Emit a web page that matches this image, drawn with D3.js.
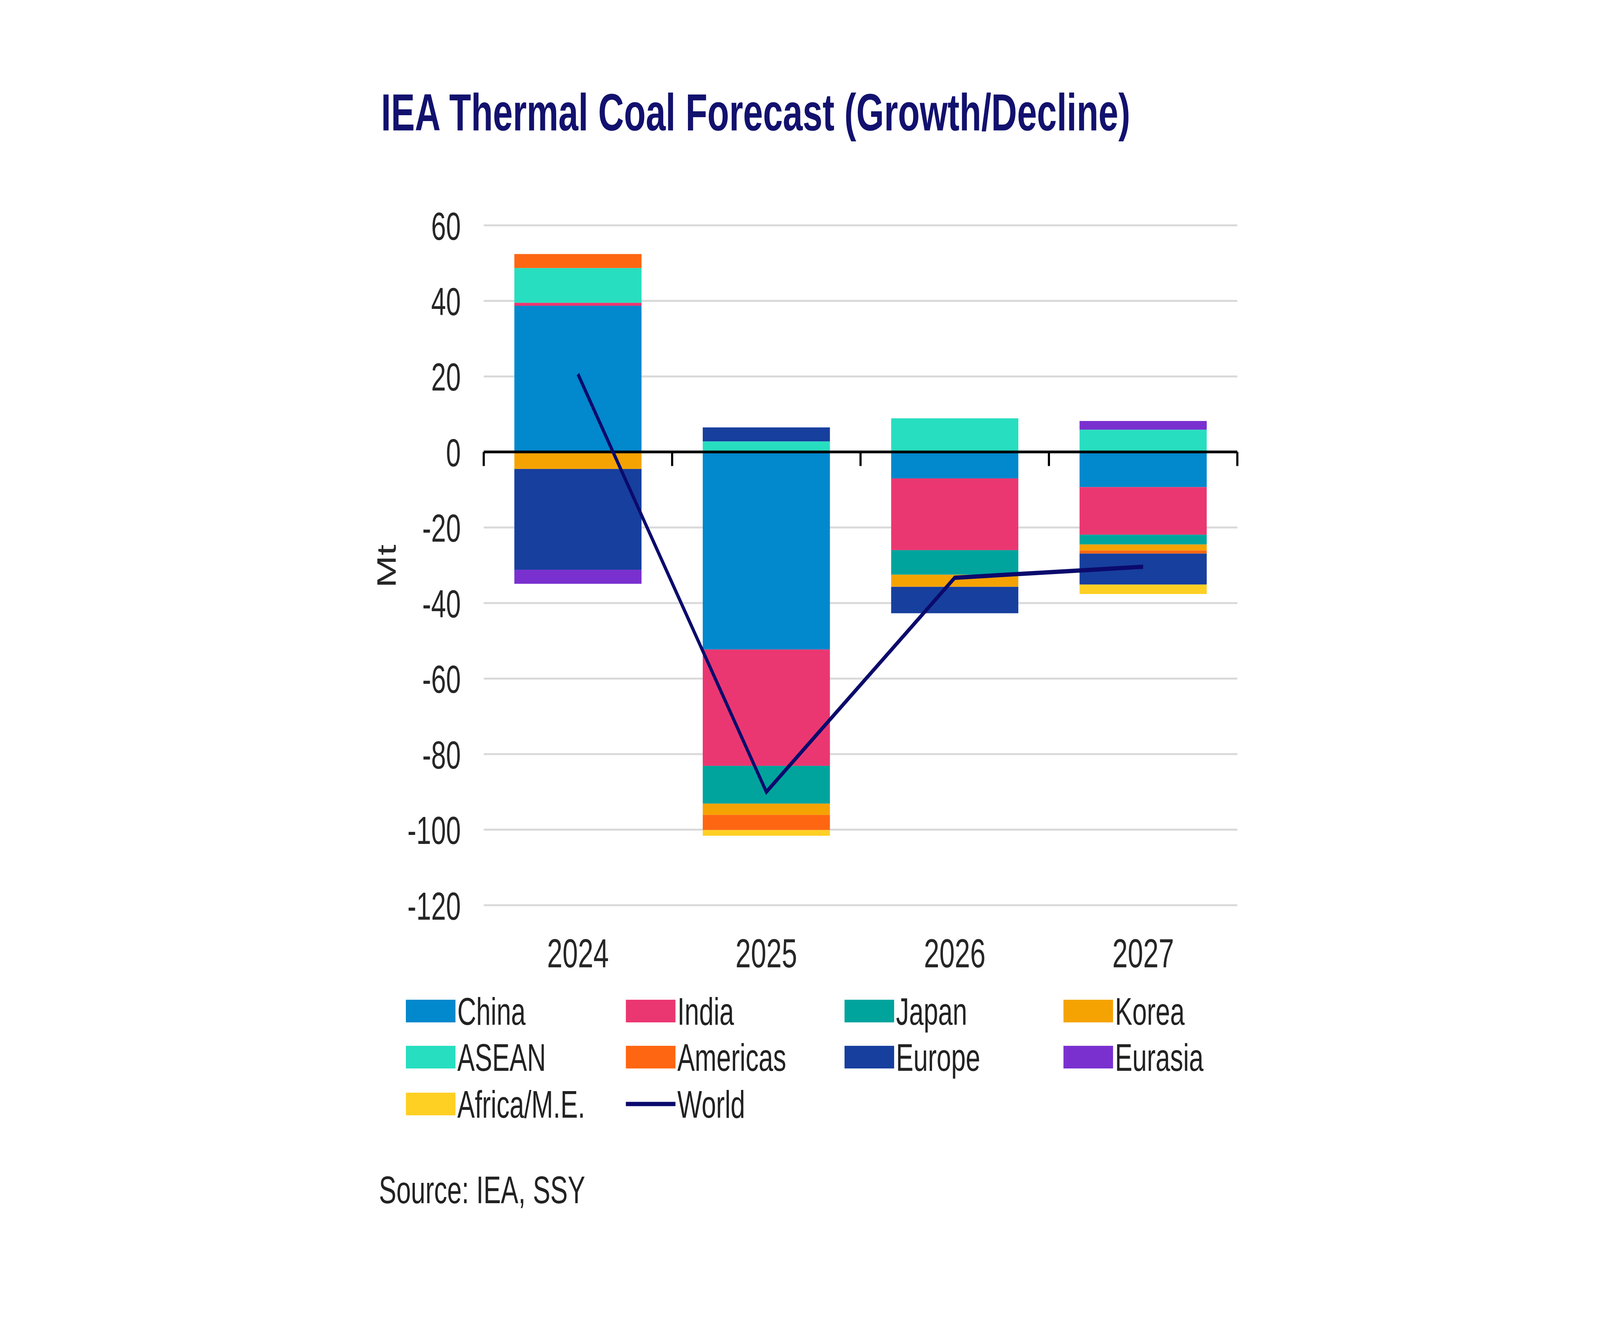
<!DOCTYPE html>
<html>
<head>
<meta charset="utf-8">
<script src="https://cdn.jsdelivr.net/npm/d3@7"></script>
<style>
  html, body { margin: 0; padding: 0; width: 100%; height: 100%; overflow: hidden; background: #ffffff; }
  svg { display: block; width: 100vw; height: 100vh; }
  text { font-family: "Liberation Sans", Arial, sans-serif; }
</style>
</head>
<body>
<script>
// ---------------- DATA ----------------
const categories = ["2024", "2025", "2026", "2027"];
const seriesNames = ["China", "India", "Japan", "Korea", "ASEAN", "Americas", "Europe", "Eurasia", "Africa/M.E."];
const china    = [38.7, -52.3,  -7.0,  -9.3];
const india    = [ 0.8, -30.8, -19.0, -12.6];
const japan    = [ 0.0, -10.0,  -6.5,  -2.6];
const korea    = [-4.5,  -3.0,  -3.2,  -1.6];
const asean    = [ 9.2,   2.8,   8.9,   5.9];
const americas = [ 3.7,  -4.0,   0.0,  -0.8];
const europe   = [-26.7,  3.7,  -7.0,  -8.2];
const eurasia  = [-3.7,   0.0,   0.0,   2.3];
const africaME = [ 0.0,  -1.5,   0.0,  -2.5];
const world    = [20.6, -90.0, -33.3, -30.4];
const yTicks   = [60, 40, 20, 0, -20, -40, -60, -80, -100, -120];
const seriesColors = ["#0288CC", "#EB3771", "#00A49D", "#F5A302", "#27DEC0", "#FF6612", "#173F9E", "#7A30CF", "#FFD024"];
const worldColor = "#0B0A6C";

const seriesValues = [china, india, japan, korea, asean, americas, europe, eurasia, africaME];

// ---------------- SETUP ----------------
// Drawing space is 6000 x 3375; it is stretched to fill whatever viewport the browser gives.
const W = 6000, H = 3375;
const svg = d3.select("body").append("svg")
  .attr("viewBox", `0 0 ${W} ${H}`)
  .attr("preserveAspectRatio", "none");
svg.append("rect").attr("width", W).attr("height", H).attr("fill", "#ffffff");

const plotL = 1814, plotR = 4640;
const x = d3.scaleBand().domain(categories).range([plotL, plotR]).paddingInner(0).paddingOuter(0);
const y = d3.scaleLinear().domain([-120, 60]).range([2318, 577]);
const barW = x.bandwidth() * 0.675;
const barOff = (x.bandwidth() - barW) / 2;

// table for stacking
const table = categories.map((c, i) => {
  const row = { cat: c };
  seriesNames.forEach((s, j) => { row[s] = seriesValues[j][i]; });
  return row;
});
const stack = d3.stack().keys(seriesNames).offset(d3.stackOffsetDiverging);
const layers = stack(table);

// Title
svg.append("text")
  .attr("x", 1429).attr("y", 334)
  .attr("font-size", 134).attr("font-weight", "bold")
  .attr("fill", "#12116E")
  .text("IEA Thermal Coal Forecast (Growth/Decline)");

// Gridlines
svg.append("g").selectAll("line")
  .data(yTicks.filter(t => t !== 0))
  .join("line")
  .attr("x1", plotL).attr("x2", plotR)
  .attr("y1", d => y(d)).attr("y2", d => y(d))
  .attr("stroke", "#D9D9D9").attr("stroke-width", 5);

// Y axis labels
const yAxis = svg.append("g")
  .attr("transform", `translate(${plotL},0)`)
  .call(d3.axisLeft(y).tickValues(yTicks).tickSize(0).tickPadding(86).tickFormat(d => String(d)));
yAxis.select(".domain").remove();
yAxis.selectAll("text")
  .attr("font-size", 100)
  .attr("font-family", "\"Liberation Sans\", Arial, sans-serif")
  .attr("fill", "#262626")
  .attr("dy", "0.36em");

// Y axis title
svg.append("text")
  .attr("transform", "translate(1484,1450) rotate(-90)")
  .attr("text-anchor", "middle")
  .attr("font-size", 100).attr("fill", "#262626")
  .text("Mt");

// Bars
const barsG = svg.append("g");
layers.forEach((layer, j) => {
  barsG.append("g").attr("fill", seriesColors[j])
    .selectAll("rect")
    .data(layer.filter(d => d[1] !== d[0]))
    .join("rect")
    .attr("x", d => x(d.data.cat) + barOff)
    .attr("width", barW)
    .attr("y", d => y(Math.max(d[0], d[1])))
    .attr("height", d => Math.abs(y(d[0]) - y(d[1])));
});

// Zero axis with ticks at category boundaries
const zeroY = y(0);
svg.append("line")
  .attr("x1", plotL).attr("x2", plotR)
  .attr("y1", zeroY).attr("y2", zeroY)
  .attr("stroke", "#000000").attr("stroke-width", 7);
const boundaries = categories.map(c => x(c)).concat([x(categories[categories.length - 1]) + x.bandwidth()]);
svg.append("g").selectAll("line")
  .data(boundaries)
  .join("line")
  .attr("x1", d => d).attr("x2", d => d)
  .attr("y1", zeroY).attr("y2", zeroY + 36)
  .attr("stroke", "#000000").attr("stroke-width", 8);

// X axis labels
const xAxis = svg.append("g")
  .attr("transform", `translate(0,2477)`)
  .call(d3.axisBottom(x).tickSize(0));
xAxis.select(".domain").remove();
xAxis.selectAll("text")
  .attr("y", 0).attr("dy", 0)
  .attr("font-size", 104)
  .attr("font-family", "\"Liberation Sans\", Arial, sans-serif")
  .attr("fill", "#262626");

// World line
const line = d3.line()
  .x((d, i) => x(categories[i]) + x.bandwidth() / 2)
  .y(d => y(d));
svg.append("path")
  .datum(world)
  .attr("d", line)
  .attr("fill", "none")
  .attr("stroke", worldColor)
  .attr("stroke-width", 11)
  .attr("stroke-linejoin", "miter");

// Legend
const legendItems = seriesNames.map((s, j) => ({ name: s, color: seriesColors[j], type: "rect" }))
  .concat([{ name: "World", color: worldColor, type: "line" }]);
const colX = [1522, 2347, 3167, 3988];
const rowBase = [2624, 2742, 2862];
const lg = svg.append("g");
legendItems.forEach((item, k) => {
  const col = k % 4, row = Math.floor(k / 4);
  const sx = colX[col], base = rowBase[row];
  if (item.type === "rect") {
    lg.append("rect")
      .attr("x", sx).attr("y", base - 64)
      .attr("width", 186).attr("height", 58)
      .attr("fill", item.color);
  } else {
    lg.append("line")
      .attr("x1", sx).attr("x2", sx + 186)
      .attr("y1", base - 35).attr("y2", base - 35)
      .attr("stroke", item.color).attr("stroke-width", 11);
  }
  lg.append("text")
    .attr("x", sx + 193).attr("y", base)
    .attr("font-size", 98).attr("fill", "#222222")
    .text(item.name);
});

// Source
svg.append("text")
  .attr("x", 1421).attr("y", 3081)
  .attr("font-size", 98).attr("fill", "#222222")
  .text("Source: IEA, SSY");
</script>
</body>
</html>
